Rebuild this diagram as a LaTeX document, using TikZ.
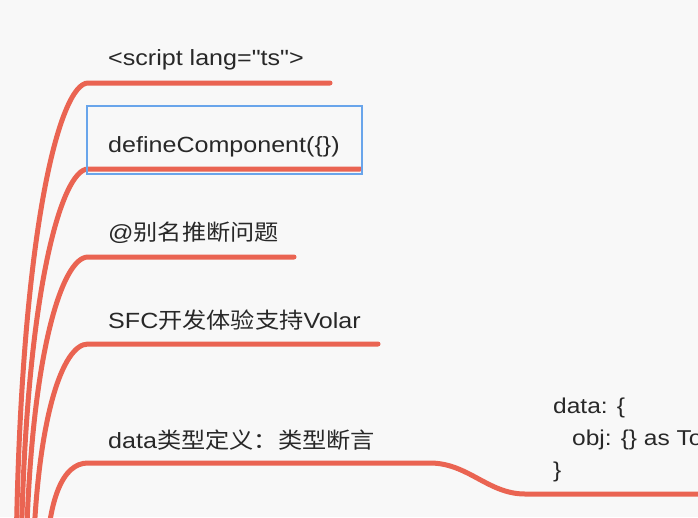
\documentclass[tikz,border=0pt]{standalone}
\usepackage{fontspec}
\setmainfont{Liberation Sans}[FakeStretch=1.14,Ligatures=TeXOff]
\newfontfamily\cjk{Noto Sans CJK SC}[FakeStretch=1.1]
\definecolor{bg}{RGB}{248,248,248}
\definecolor{branch}{RGB}{234,100,82}
\definecolor{selbox}{RGB}{105,165,235}
\definecolor{txt}{RGB}{40,40,40}
\begin{document}
\begin{tikzpicture}[x=1pt,y=-1pt,
  branchline/.style={draw=branch,line width=5pt,line cap=round},
  label/.style={anchor=base west,inner sep=0pt,text=txt,font=\fontsize{22}{26}\selectfont},
  codeline/.style={anchor=base west,inner sep=0pt,text=txt,font=\fontsize{21.5}{25}\selectfont},
  selected/.style={draw=selbox,line width=2.2pt}]
\fill[bg] (0,0) rectangle (698,517);
\useasboundingbox (0,0) rectangle (698,517);
\clip (0,0) rectangle (698,517);
% roots
\coordinate (r1) at (16,560);
\coordinate (r2) at (21,560);
\coordinate (r3) at (26,560);
\coordinate (r4) at (33,560);
\coordinate (r5) at (46,560);
% branch anchors
\coordinate (b1) at (88,83);   \coordinate (e1) at (330,83);
\coordinate (b2) at (88,169);  \coordinate (e2) at (360,169);
\coordinate (b3) at (88,257);  \coordinate (e3) at (294,257);
\coordinate (b4) at (88,344);  \coordinate (e4) at (378,344);
\coordinate (b5) at (88,463);  \coordinate (k5) at (430,463);
\coordinate (m5) at (525,494); \coordinate (e5) at (720,494);
% branches
\draw[branchline] (r1) .. controls (20,230) and (60,83) .. (b1) -- (e1);
\draw[branchline] (r2) .. controls (25,290) and (62,169) .. (b2) -- (e2);
\draw[branchline] (r3) .. controls (30,355) and (62,257) .. (b3) -- (e3);
\draw[branchline] (r4) .. controls (37,420) and (62,344) .. (b4) -- (e4);
\draw[branchline] (r5) .. controls (49,500) and (62,463) .. (b5) -- (k5)
  .. controls (468,463) and (488,494) .. (m5) -- (e5);
% labels
\node[label] (t1) at (108,65) {<script lang="ts">};
\node[label] (t2) at (108,152) {defineComponent(\{\})};
\node[label] (t3) at (108,240) {@{\cjk 别名推断问题}};
\node[label] (t4) at (108,328) {SFC{\cjk 开发体验支持}Volar};
\node[label] (t5) at (108,448) {data{\cjk 类型定义：类型断言}};
\draw[selected] (87,106) rectangle (362,174);
% code block
\node[codeline] (c1) at (553,413) {data: \{};
\node[codeline] (c2) at (572,445) {obj: \{\} as To};
\node[codeline] (c3) at (553,477) {\}};
\end{tikzpicture}
\end{document}
